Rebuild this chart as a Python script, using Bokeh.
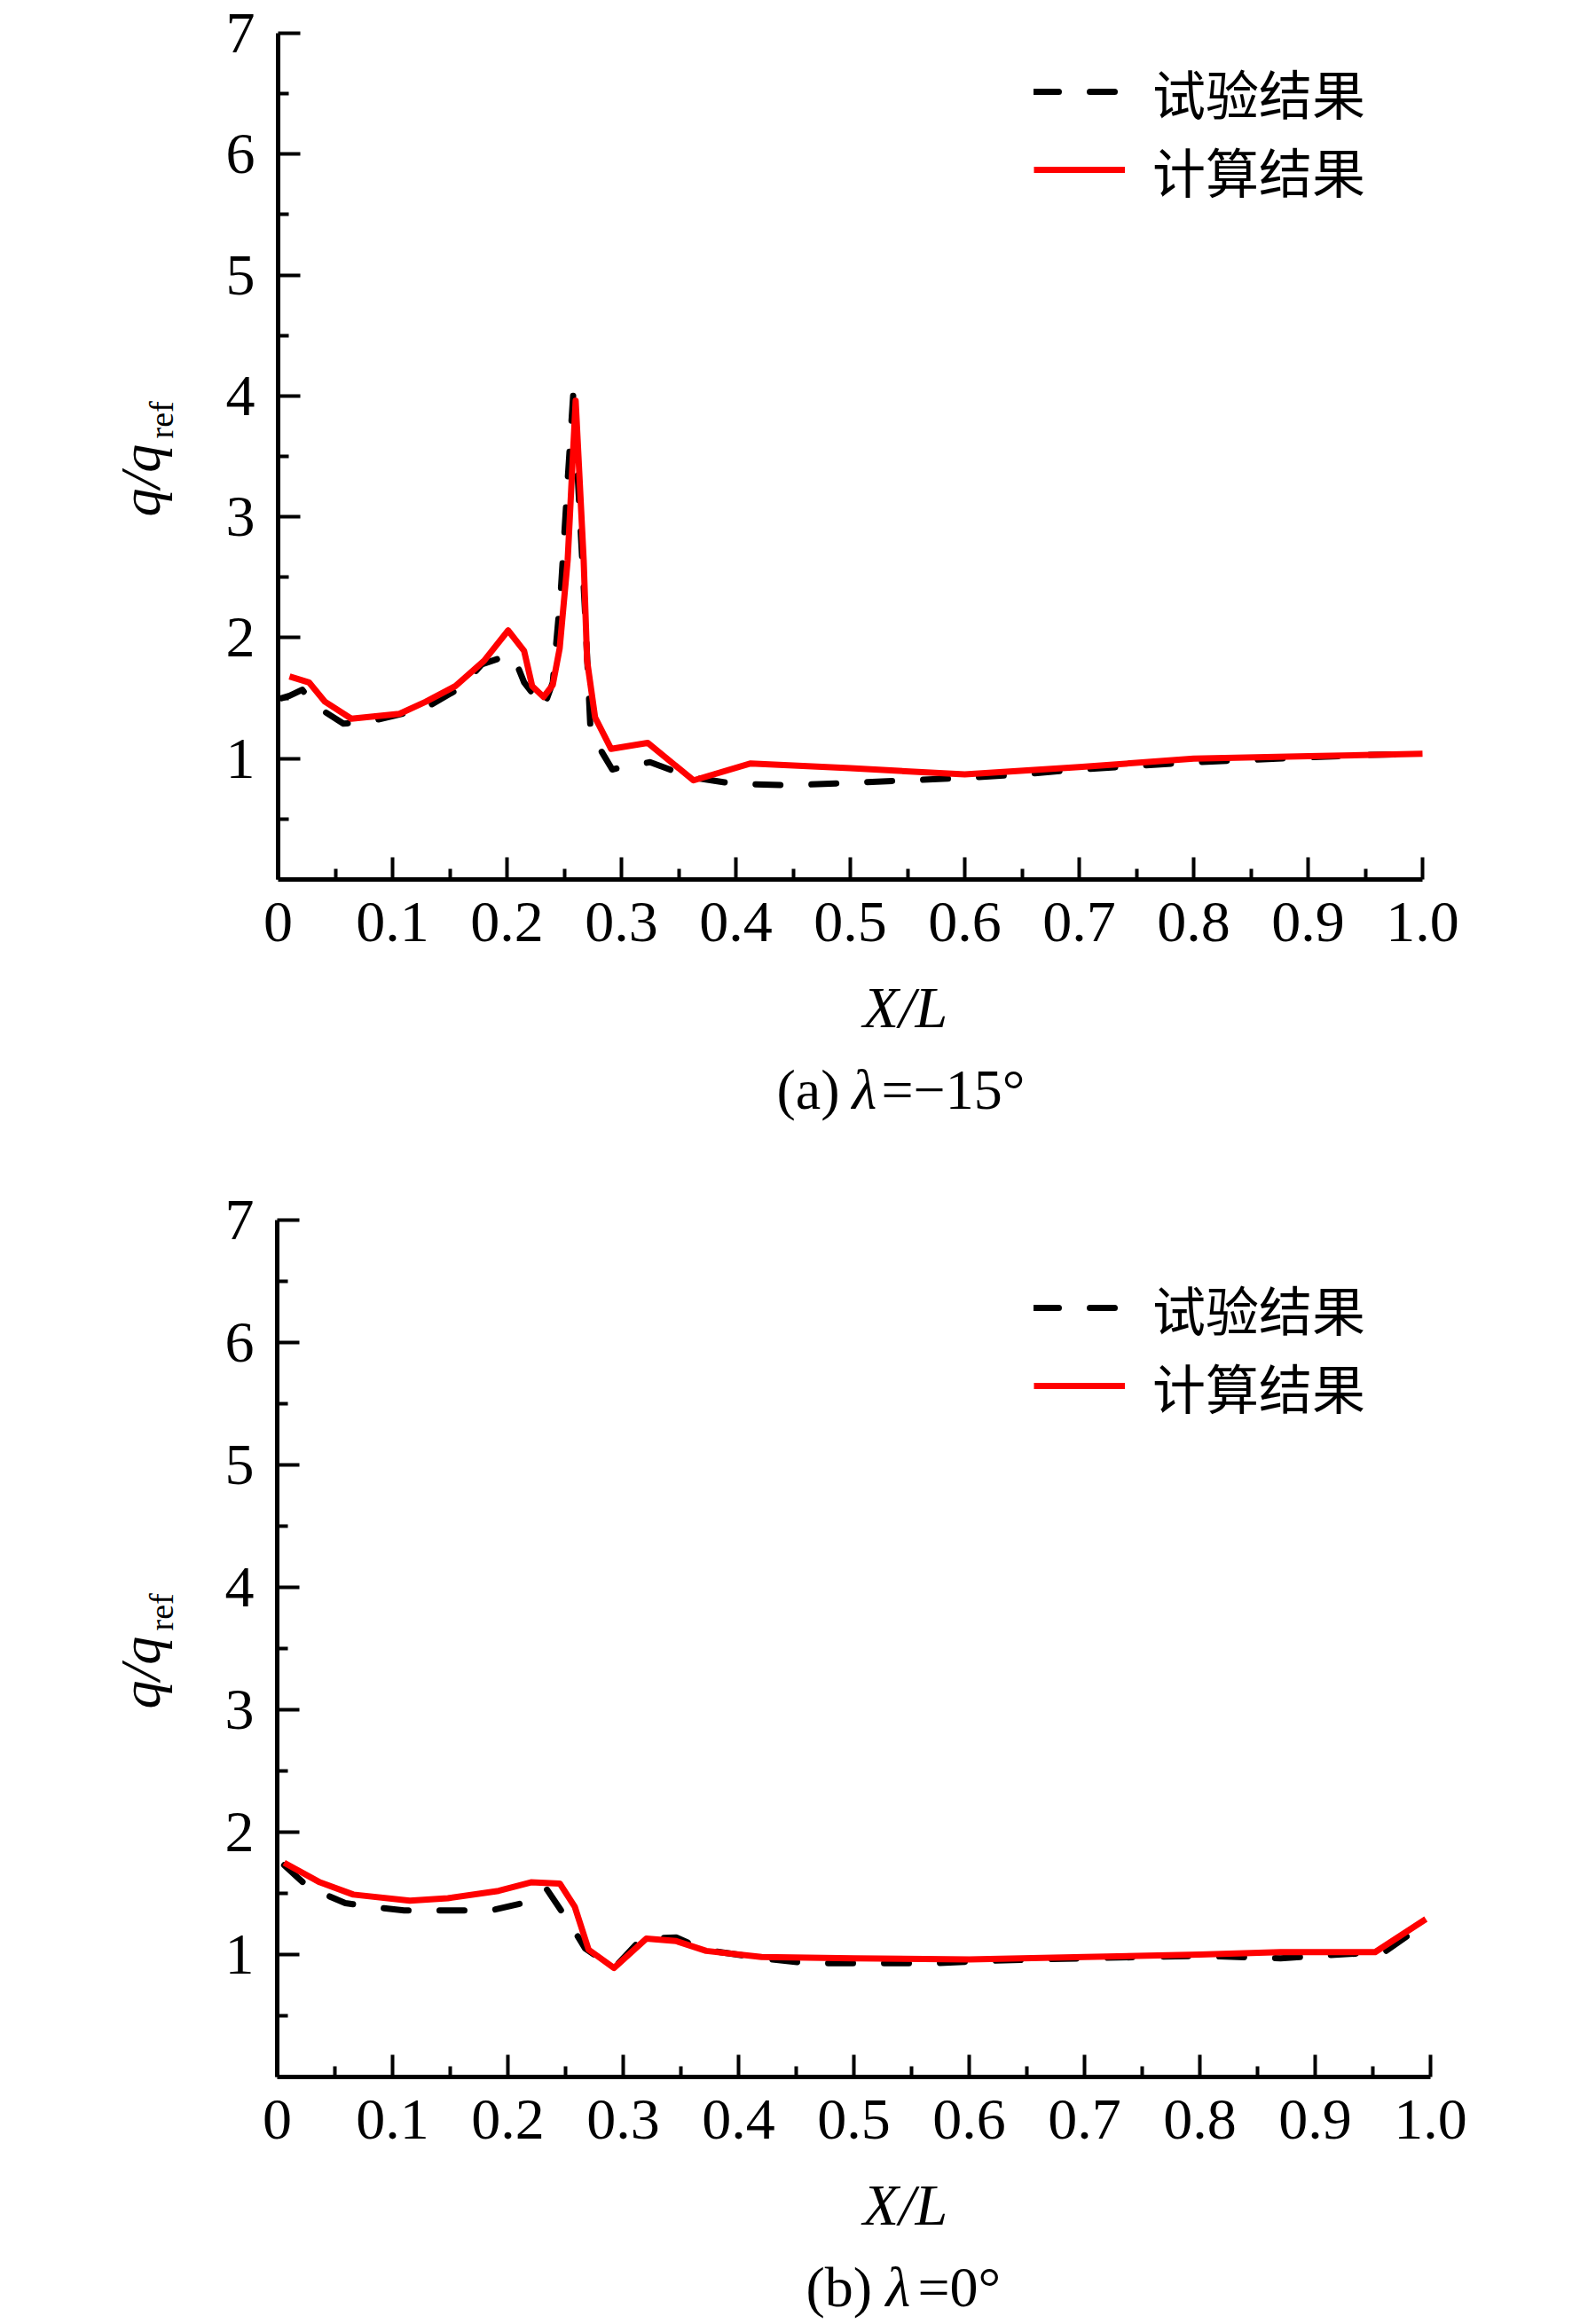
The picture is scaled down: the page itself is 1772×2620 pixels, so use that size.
import math
from bokeh.plotting import figure
from bokeh.models import Range1d, FixedTicker, Label, Legend, LegendItem, CustomJSTickFormatter
from bokeh.layouts import column
from bokeh.embed import file_html
from bokeh.resources import INLINE

# ---------------- data ----------------
x_ticks = [0, 0.1, 0.2, 0.3, 0.4, 0.5, 0.6, 0.7, 0.8, 0.9, 1.0]
x_tick_labels = ["0", "0.1", "0.2", "0.3", "0.4", "0.5", "0.6", "0.7", "0.8", "0.9", "1.0"]
x_minor = [0.05, 0.15, 0.25, 0.35, 0.45, 0.55, 0.65, 0.75, 0.85, 0.95]
y_ticks = [1, 2, 3, 4, 5, 6, 7]
y_minor = [0.5, 1.5, 2.5, 3.5, 4.5, 5.5, 6.5]
legend_labels = ["试验结果", "计算结果"]
x_title = "X/L"
y_title = ["q/q", "ref"]
captions = [["(a) ", "λ", "=−15°"], ["(b) ", "λ", "=0°"]]

# panel (a) lambda = -15 deg
a_exp_x = [0.003, 0.010, 0.021, 0.032, 0.057, 0.077, 0.108, 0.129, 0.160, 0.178, 0.200,
           0.206, 0.215, 0.232, 0.240, 0.247, 0.253, 0.258, 0.262, 0.268, 0.273, 0.280,
           0.292, 0.305, 0.325, 0.345, 0.365, 0.40, 0.45, 0.50, 0.55, 0.60, 0.65, 0.70,
           0.75, 0.80, 0.85, 0.90, 0.95, 1.00]
a_exp_y = [1.50, 1.52, 1.57, 1.44, 1.29, 1.30, 1.37, 1.42, 1.59, 1.78, 1.85,
           1.84, 1.63, 1.42, 1.63, 2.38, 3.30, 4.03, 3.30, 2.25, 1.23, 1.10,
           0.91, 0.94, 0.97, 0.90, 0.84, 0.79, 0.78, 0.80, 0.82, 0.84, 0.87, 0.91,
           0.94, 0.97, 0.99, 1.01, 1.03, 1.04]
a_cal_x = [0.010, 0.027, 0.041, 0.064, 0.085, 0.106, 0.129, 0.155, 0.180, 0.201, 0.215,
           0.222, 0.232, 0.240, 0.246, 0.253, 0.260, 0.267, 0.270, 0.277, 0.291, 0.323,
           0.363, 0.413, 0.50, 0.60, 0.70, 0.80, 0.90, 1.00]
a_cal_y = [1.68, 1.63, 1.47, 1.33, 1.35, 1.37, 1.47, 1.60, 1.81, 2.06, 1.89,
           1.60, 1.51, 1.61, 1.91, 2.64, 3.96, 2.64, 1.81, 1.34, 1.08, 1.13,
           0.82, 0.96, 0.92, 0.87, 0.93, 1.00, 1.02, 1.04]

# panel (b) lambda = 0 deg
b_exp_x = [0.006, 0.027, 0.059, 0.082, 0.110, 0.133, 0.185, 0.213, 0.234, 0.254, 0.267,
           0.292, 0.316, 0.346, 0.370, 0.42, 0.46, 0.52, 0.57, 0.62, 0.70, 0.80, 0.87,
           0.92, 0.96, 0.99]
b_exp_y = [1.73, 1.55, 1.42, 1.39, 1.36, 1.36, 1.36, 1.42, 1.53, 1.25, 1.05,
           0.89, 1.13, 1.14, 1.04, 0.97, 0.93, 0.93, 0.93, 0.95, 0.97, 0.99, 0.97,
           1.00, 1.02, 1.22]
b_cal_x = [0.006, 0.037, 0.066, 0.115, 0.148, 0.192, 0.220, 0.245, 0.258, 0.270, 0.292,
           0.320, 0.346, 0.372, 0.42, 0.50, 0.60, 0.70, 0.80, 0.87, 0.952, 0.996]
b_cal_y = [1.75, 1.59, 1.49, 1.44, 1.46, 1.52, 1.59, 1.58, 1.39, 1.04, 0.89,
           1.13, 1.11, 1.03, 0.98, 0.97, 0.96, 0.98, 1.00, 1.02, 1.02, 1.29]

SERIF = "Liberation Serif"
CJK = "Noto Sans CJK SC"
W = 1772
H = 1310
LEG_ROW = 88      # legend row box height (px)


def make_panel(exp_x, exp_y, cal_x, cal_y, cap, g):
    # g: pixel geometry of the axes box inside this figure
    x0, x1, y7, y0 = g["x0"], g["x1"], g["y7"], g["y0"]
    ux = x1 - x0            # px per unit x
    uy = (y0 - y7) / 7.0    # px per unit y
    xr = Range1d(-x0 / ux, (W - x0) / ux)
    yr = Range1d(-(H - y0) / uy, y0 / uy)
    p = figure(width=W, height=H, frame_width=W, frame_height=H,
               min_border=0, min_border_left=0, min_border_right=0,
               min_border_top=0, min_border_bottom=0,
               x_range=xr, y_range=yr,
               output_backend="svg", toolbar_location=None,
               outline_line_color=None, background_fill_color="white",
               border_fill_color="white")
    p.xgrid.visible = False
    p.ygrid.visible = False
    for ax in (p.xaxis[0], p.yaxis[0]):
        ax.fixed_location = 0
        ax.axis_line_width = 5
        ax.axis_line_color = "black"
        ax.major_tick_line_width = 4
        ax.minor_tick_line_width = 4
        ax.major_tick_line_color = "black"
        ax.minor_tick_line_color = "black"
        ax.major_tick_in = 25
        ax.major_tick_out = 0
        ax.minor_tick_in = 12
        ax.minor_tick_out = 0
        ax.major_label_text_font = SERIF
        ax.major_label_text_font_size = "66px"
        ax.major_label_text_color = "black"
    p.xaxis.bounds = (0, 1)
    p.yaxis.bounds = (0, 7)
    p.xaxis.ticker = FixedTicker(ticks=x_ticks, minor_ticks=x_minor)
    p.xaxis.formatter = CustomJSTickFormatter(args=dict(labels=x_tick_labels),
                                              code="return labels[index];")
    p.xaxis.major_label_standoff = 26
    p.yaxis.ticker = FixedTicker(ticks=y_ticks, minor_ticks=y_minor)
    p.yaxis.major_label_standoff = 26

    r_exp = p.line(exp_x, exp_y, line_color="black", line_width=7,
                   line_dash="28 35", line_cap="round", line_join="round")
    r_cal = p.line(cal_x, cal_y, line_color="#ff0000", line_width=7,
                   line_join="round")

    # one legend box per entry, so each row can be placed exactly
    for lab, rend, row_c in zip(legend_labels, [r_exp, r_cal], g["leg_rows"]):
        leg = Legend(items=[LegendItem(label=lab, renderers=[rend])],
                     location=(1165, H - (row_c + LEG_ROW / 2.0)),
                     padding=0, margin=0, spacing=0,
                     glyph_width=103, glyph_height=LEG_ROW, label_height=LEG_ROW,
                     label_standoff=31, label_text_font=CJK,
                     label_text_font_size="60px", label_text_color="black",
                     border_line_color=None, background_fill_alpha=0)
        p.add_layout(leg, "center")

    def dx(px):
        return (px - x0) / ux

    def dy(py):
        return (y0 - py) / uy

    ymid = (y0 + y7) / 2.0
    # y axis title q/q_ref (rotated)
    p.add_layout(Label(x=dx(158), y=dy(ymid + 68), text=y_title[0], angle=math.pi / 2,
                       text_font=SERIF, text_font_style="italic",
                       text_font_size="64px", text_align="left",
                       text_baseline="alphabetic", text_color="black"))
    p.add_layout(Label(x=dx(181), y=dy(ymid - 20), text=y_title[1], angle=math.pi / 2,
                       text_font=SERIF, text_font_size="38px", text_align="left",
                       text_baseline="alphabetic", text_color="black"))
    # x axis title
    p.add_layout(Label(x=dx(1020), y=dy(y0 + 144), text=x_title, text_font=SERIF,
                       text_font_style="italic", text_font_size="66px",
                       text_align="center", text_baseline="alphabetic",
                       text_color="black"))
    # caption
    styles = ["normal", "italic", "normal"]
    for part, xs, st in zip(cap, g["cap_x"], styles):
        p.add_layout(Label(x=dx(xs), y=dy(y0 + 237), text=part,
                           text_font=SERIF, text_font_style=st,
                           text_font_size="64px", text_align="left",
                           text_baseline="alphabetic", text_color="black"))
    return p


geom_a = dict(x0=313, x1=1603, y7=37, y0=991, leg_rows=[103, 191], cap_x=[875, 960, 993])
geom_b = dict(x0=312, x1=1612, y7=65, y0=1031, leg_rows=[164, 252], cap_x=[908, 998, 1034])

pa = make_panel(a_exp_x, a_exp_y, a_cal_x, a_cal_y, captions[0], geom_a)
pb = make_panel(b_exp_x, b_exp_y, b_cal_x, b_cal_y, captions[1], geom_b)

layout = column(pa, pb, spacing=0)
open("out.html", "w").write(file_html(layout, INLINE))
